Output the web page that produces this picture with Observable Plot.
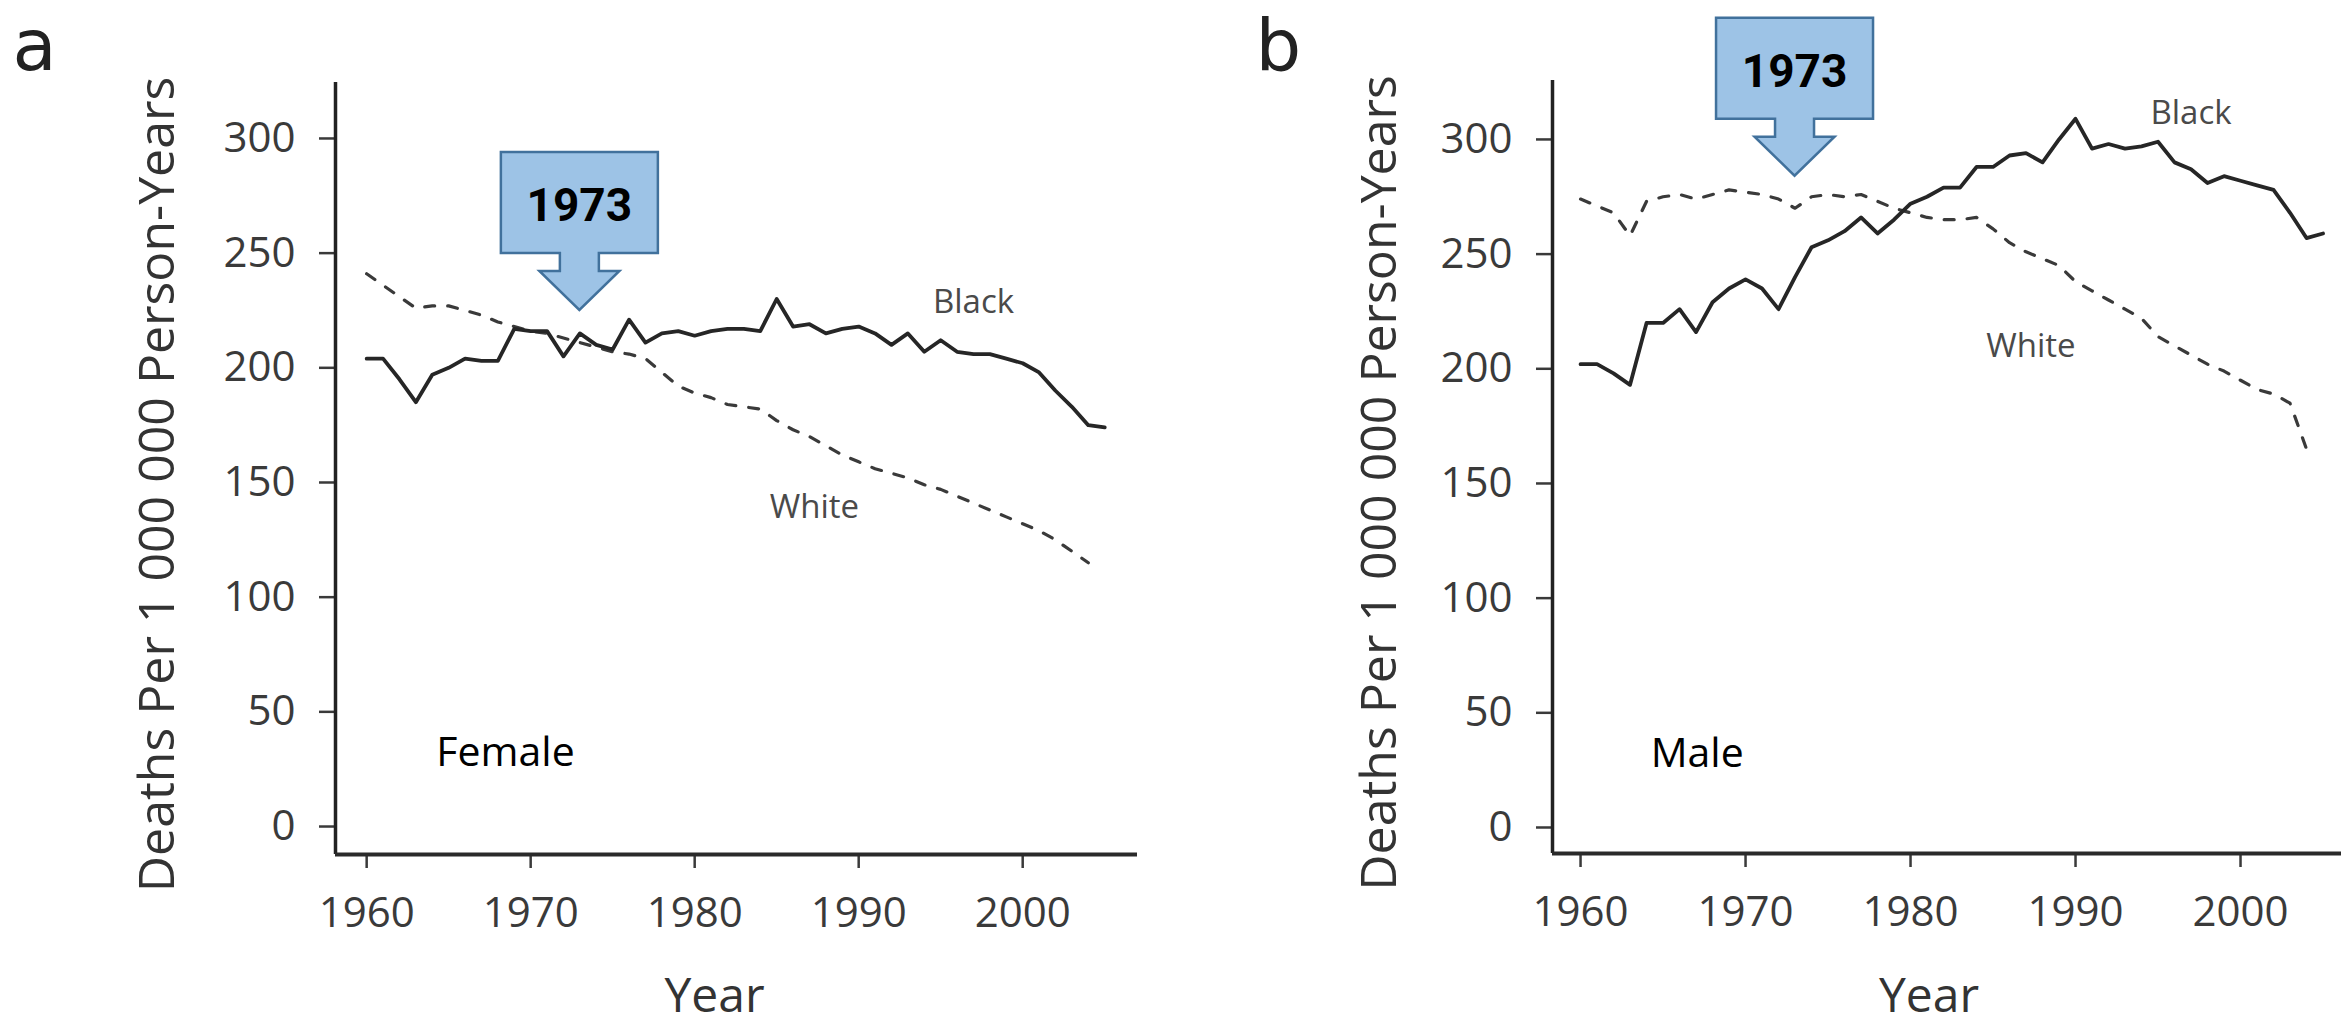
<!DOCTYPE html>
<html>
<head>
<meta charset="utf-8">
<script src="https://cdn.jsdelivr.net/npm/d3@7"></script>
<script src="https://cdn.jsdelivr.net/npm/@observablehq/plot@0.6"></script>
<style>
  html, body { margin: 0; padding: 0; background: #fff; }
  #wrap { position: relative; width: 2341px; height: 1029px; overflow: hidden; background: #fff; }
  #pa { position: absolute; left: 0; top: 0; }
  #pb { position: absolute; left: 1170px; top: 0; }
</style>
</head>
<body>
<div id="wrap"><div id="pa"></div><div id="pb"></div></div>
<script>
// ---------------- data ----------------
const years = [1960,1961,1962,1963,1964,1965,1966,1967,1968,1969,1970,1971,1972,1973,1974,1975,1976,1977,1978,1979,
               1980,1981,1982,1983,1984,1985,1986,1987,1988,1989,1990,1991,1992,1993,1994,1995,1996,1997,1998,1999,
               2000,2001,2002,2003,2004,2005];

const femaleBlack = [204,204,195,185,197,200,204,203,203,217,216,216,205,215,210,208,221,211,215,216,
                     214,216,217,217,216,230,218,219,215,217,218,215,210,215,207,212,207,206,206,204,
                     202,198,190,183,175,174];
const femaleWhite = [241,236,231,226,227,227,225,223,220,218,216,215,213,211,209,207,206,204,198,192,
                     189,187,184,183,182,177,173,170,166,162,159,156,154,152,149,147,144,141,138,135,
                     132,129,125,120,115];
const maleBlack   = [202,202,198,193,220,220,226,216,229,235,239,235,226,240,253,256,260,266,259,265,
                     272,275,279,279,288,288,293,294,290,300,309,296,298,296,297,299,290,287,281,284,
                     282,280,278,268,257,259];
const maleWhite   = [274,271,268,258,273,275,276,274,276,278,277,276,274,270,275,276,275,276,273,270,
                     268,266,265,265,266,261,255,251,248,245,238,234,230,226,222,214,210,206,202,199,
                     195,191,189,185,165];

const yTicks = [0, 50, 100, 150, 200, 250, 300];
const xTicks = [1960, 1970, 1980, 1990, 2000];
const yTitle = "Deaths Per 1 000 000 Person-Years";
const xTitle = "Year";
const panelLetters = ["a", "b"];
const sexNames = ["Female", "Male"];
const seriesNames = ["Black", "White"];
const calloutYear = 1973;
const calloutText = "1973";
const calloutTips = [225, 284];           // value the arrow tip points at (female, male)
const blackLabelPos = [{year: 1997.0, value: 228.5}, {year: 1997.0, value: 311.4}];
const whiteLabelPos = [{year: 1987.3, value: 139.0}, {year: 1987.3, value: 209.8}];
const sexLabelPos = {year: 1964.25, value: 26.5};

// ---------------- helpers ----------------
const rows = vals => vals.map((value, i) => ({year: years[i], value}));

function callout(year, tipValue, label) {
  return (index, scales) => {
    const cx = scales.x(year), ty = scales.y(tipValue);
    const headH = 39, headHW = 40, shaftHW = 19.5, shaftH = 18, boxH = 101, boxHW = 78.5;
    const y1 = ty - headH, y2 = y1 - shaftH, y3 = y2 - boxH;
    const d = `M${cx - boxHW},${y3}H${cx + boxHW}V${y2}H${cx + shaftHW}V${y1}H${cx + headHW}` +
              `L${cx},${ty}L${cx - headHW},${y1}H${cx - shaftHW}V${y2}H${cx - boxHW}Z`;
    const g = d3.create("svg:g");
    g.append("path").attr("d", d).attr("fill", "#9DC3E6").attr("stroke", "#41719C")
      .attr("stroke-width", 2.5).attr("stroke-linejoin", "miter");
    g.append("text").attr("x", cx).attr("y", y3 + 69).attr("text-anchor", "middle")
      .attr("font-family", "Roboto, 'Liberation Sans', sans-serif").attr("font-weight", 700)
      .attr("font-size", 46).attr("fill", "#000").text(label);
    return g.node();
  };
}

function panel(cfg) {
  const {width, marginLeft, marginRight, marginTop, marginBottom, xDomain, yDomain,
         black, white, idx, letterDx, letterDy, titleDx, titleDy, yearDx, yearDy} = cfg;
  const textColor = "#3a3a3a";
  return Plot.plot({
    width, height: 1029,
    marginLeft, marginRight, marginTop, marginBottom,
    x: {domain: xDomain},
    y: {domain: yDomain},
    style: {background: "#fff", fontFamily: "'Open Sans', sans-serif", overflow: "visible", color: textColor},
    marks: [
      Plot.axisY({ticks: yTicks, tickSize: 16, tickPadding: 24, fontSize: 42, label: null,
                  strokeWidth: 2.5, color: textColor}),
      Plot.axisX({ticks: xTicks, tickSize: 14, tickPadding: 29, fontSize: 42, label: null,
                  tickFormat: d => String(d), strokeWidth: 2.5, color: textColor}),
      Plot.ruleX([xDomain[0]], {stroke: "#222", strokeWidth: 3.5}),
      Plot.ruleY([yDomain[0]], {stroke: "#2a2a2a", strokeWidth: 4}),
      Plot.line(rows(white), {x: "year", y: "value", stroke: "#3a3a3a", strokeWidth: 3.2,
                             strokeDasharray: "10,13", strokeLinejoin: "round"}),
      Plot.line(rows(black), {x: "year", y: "value", stroke: "#262626", strokeWidth: 3.8,
                             strokeLinejoin: "round", strokeLinecap: "round"}),
      Plot.text([{...blackLabelPos[idx], text: seriesNames[0]}, {...whiteLabelPos[idx], text: seriesNames[1]}],
                {x: "year", y: "value", text: "text", fontSize: 33, fill: "#4a4a4a"}),
      Plot.text([{...sexLabelPos, text: sexNames[idx]}],
                {x: "year", y: "value", text: "text", textAnchor: "start", lineAnchor: "bottom",
                 fontSize: 41, fill: "#000"}),
      Plot.text([panelLetters[idx]], {frameAnchor: "top-left", text: d => d, dx: letterDx, dy: letterDy,
                 textAnchor: "start", lineAnchor: "bottom", fontSize: 72, fill: "#222",
                 fontFamily: "'DejaVu Sans', sans-serif"}),
      Plot.text([yTitle], {frameAnchor: "left", text: d => d, rotate: -90, dx: titleDx, dy: titleDy,
                 textAnchor: "middle", lineAnchor: "middle", fontSize: 50, fill: "#333"}),
      Plot.text([xTitle], {frameAnchor: "bottom", text: d => d, dx: yearDx, dy: yearDy,
                 textAnchor: "middle", lineAnchor: "middle", fontSize: 48, fill: "#333"}),
      callout(calloutYear, calloutTips[idx], calloutText)
    ]
  });
}

const chartA = panel({
  width: 1170, marginLeft: 335, marginRight: 33, marginTop: 82, marginBottom: 175,
  xDomain: [1958.1, 2007.0], yDomain: [-12.2, 324.4],
  black: femaleBlack, white: femaleWhite, idx: 0,
  letterDx: -323, letterDy: -13, titleDx: -178, titleDy: 16, yearDx: -22, yearDy: 142
});
const chartB = panel({
  width: 1171, marginLeft: 382, marginRight: 0, marginTop: 80, marginBottom: 176,
  xDomain: [1958.3, 2006.12], yDomain: [-11.34, 325.7],
  black: maleBlack, white: maleWhite, idx: 1,
  letterDx: -297, letterDy: -11, titleDx: -173, titleDy: 16, yearDx: -18, yearDy: 143
});
document.getElementById("pa").append(chartA);
document.getElementById("pb").append(chartB);
</script>
</body>
</html>
